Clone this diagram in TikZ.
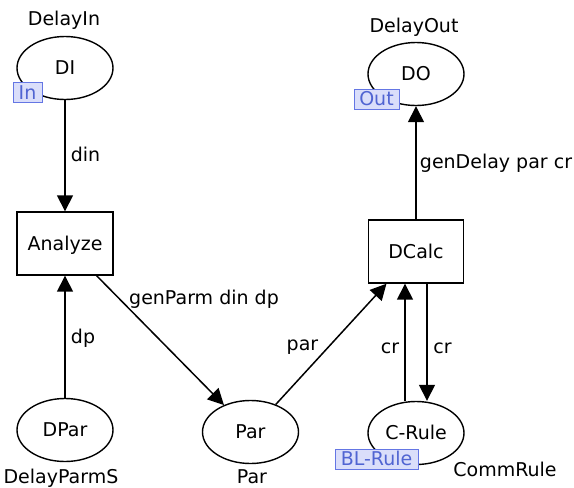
\documentclass[tikz,border=0pt]{standalone}
\usepackage{fontspec}
\setmainfont{DejaVu Sans}
\usetikzlibrary{arrows.meta,shapes.geometric}
\definecolor{tagfill}{RGB}{218,222,250}
\definecolor{tagline}{RGB}{100,118,228}
\definecolor{tagtext}{RGB}{80,100,210}
\tikzset{
  txt/.style={font=\fontsize{19}{23}\selectfont, inner sep=0pt, text height=13.8pt, text depth=0pt},
  place/.style={txt, ellipse, draw, line width=1.4pt, minimum width=96pt, minimum height=63pt},
  trans/.style={txt, rectangle, draw, line width=1.4pt, minimum width=96pt, minimum height=63pt},
  tag/.style={txt, draw=tagline, fill=tagfill, text=tagtext, line width=1pt, minimum height=20pt},
  arc/.style={line width=1.5pt, -{Triangle[length=16pt,width=16pt]}},
}
\begin{document}
\begin{tikzpicture}[x=1pt,y=-1pt]
\useasboundingbox (0,0) rectangle (574,488);
% places and transitions
\node[place] (DI) at (65,68) {DI};
\node[place] (DO) at (416,74) {DO};
\node[trans] (An) at (65,243.5) {Analyze};
\node[trans,minimum width=95pt] (DC) at (416,251.5) {DCalc};
\node[place] (DPar) at (65,430) {DPar};
\node[place] (Par) at (250.5,432) {Par};
\node[place] (CR) at (416,433) {C-Rule};
% port / fusion tags
\node[tag,minimum width=29pt] (tIn) at (27.5,92.5) {In};
\node[tag,minimum width=45pt] (tOut) at (376.5,99) {Out};
\node[tag,minimum width=83pt] (tBL) at (376.5,459) {BL-Rule};
% place type labels
\node[txt] (lDI) at (64,18.5) {DelayIn};
\node[txt] (lDO) at (414,25.5) {DelayOut};
\node[txt] (lDPar) at (61,477) {DelayParmS};
\node[txt] (lPar) at (252,477) {Par};
\node[txt] (lCR) at (505,470) {CommRule};
% arcs
\draw[arc] (DI) -- (An);
\draw[arc] (DPar) -- (An);
\draw[arc] (An) -- (Par);
\draw[arc] (Par) -- (DC);
\draw[arc] (DC) -- (DO);
\draw[arc] ([xshift=-11pt]CR.north) -- ([xshift=-11pt]DC.south);
\draw[arc] ([xshift=11pt]DC.south) -- ([xshift=11pt]CR.north);
% arc inscriptions
\node[txt] (aDin) at (85.5,155) {din};
\node[txt] (aDp) at (83,337) {dp};
\node[txt] (aGen) at (204,298) {genParm din dp};
\node[txt] (aPar) at (302.5,343.5) {par};
\node[txt] (aCr1) at (390,346.7) {cr};
\node[txt] (aCr2) at (442.5,346.7) {cr};
\node[txt] (aDel) at (496,162) {genDelay par cr};
\end{tikzpicture}
\end{document}
